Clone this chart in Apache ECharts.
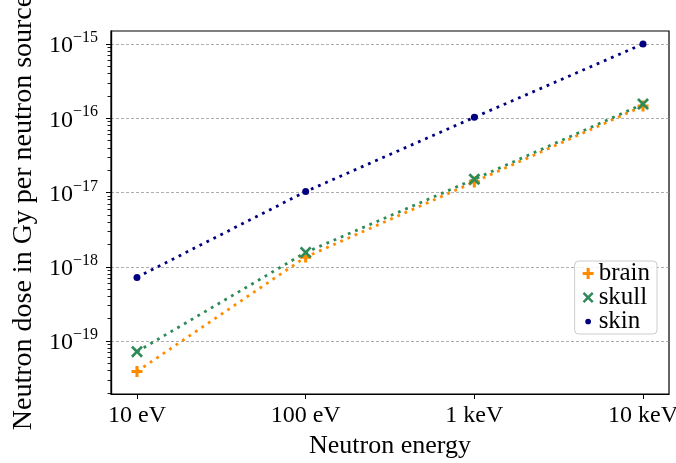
<!DOCTYPE html>
<html>
<head>
<meta charset="utf-8">
<script src="https://cdn.jsdelivr.net/npm/echarts@6/dist/echarts.min.js"></script>
<style>
  html, body { margin: 0; padding: 0; background: #fff; }
  #chart-container { width: 676px; height: 463px; }
</style>
</head>
<body>
<div id="chart-container"></div>
<script>
// neutron energy in eV
const energies = [10, 100, 1000, 10000];
const brainDose = [3.9e-20, 1.35e-18, 1.39e-17, 1.46e-16];
const skullDose = [7.2e-20, 1.56e-18, 1.51e-17, 1.55e-16];
const skinDose = [7.2e-19, 1.03e-17, 1.03e-16, 1.0e-15];

const xTickValues = [10, 100, 1000, 10000];
const xTickLabels = ["10 eV", "100 eV", "1 keV", "10 keV"];
const yTickValues = [1e-19, 1e-18, 1e-17, 1e-16, 1e-15];

const font = "Liberation Serif";
const lg = Math.log10;

// axis ranges (log10 units)
const xMin = 0.846, xMax = 4.154;
const yMin = -19.713, yMax = -14.825;

// minor ticks 2..9 per decade
let yMinor = [];
for (let n = -20; n <= -15; n++) {
    for (let k = 2; k <= 9; k++) {
        let v = lg(k) + n;
        if (v > yMin && v < yMax) yMinor.push(v);
    }
}

const plusPath = "path://M3.6,0H6.4V3.6H10V6.4H6.4V10H3.6V6.4H0V3.6H3.6Z";
const crossPath = "path://M0,1.6L1.6,0L5,3.4L8.4,0L10,1.6L6.6,5L10,8.4L8.4,10L5,6.6L1.6,10L0,8.4L3.4,5Z";
// small dot inside a 10x10 box, for the legend
const dotPath = "path://M0,0M10,10M7.6,5A2.6,2.6,0,1,1,2.4,5A2.6,2.6,0,1,1,7.6,5Z";

function toPoints(vals) {
    return energies.map((e, i) => [lg(e), lg(vals[i])]);
}

function makeSeries(name, vals, color, symbol, size) {
    return {
        name: name,
        type: "line",
        data: toPoints(vals),
        symbol: symbol,
        symbolSize: size,
        showSymbol: true,
        color: color,
        itemStyle: { color: color },
        lineStyle: { color: color, width: 2.8, type: [2.8, 5], cap: "butt" },
        emphasis: { disabled: true },
        animation: false,
    };
}

let dom = document.getElementById("chart-container");
let myChart = echarts.init(dom, null, { renderer: "canvas" });

const gridBox = { left: 111, right: 7, top: 31, bottom: 69 };

let option = {
    backgroundColor: "#fff",
    animation: false,
    grid: [
        Object.assign({
            show: true, borderColor: "#000", borderWidth: 1.2,
            backgroundColor: "transparent",
            outerBoundsMode: "none", containLabel: false,
        }, gridBox),
        // same box, only for the minor ticks
        Object.assign({ show: false, outerBoundsMode: "none", containLabel: false }, gridBox),
    ],
    legend: {
        orient: "vertical",
        right: 19,
        top: 261,
        data: [
            { name: "brain", icon: plusPath },
            { name: "skull", icon: crossPath },
            { name: "skin", icon: dotPath },
        ],
        itemWidth: 11,
        itemHeight: 11,
        itemGap: -1,
        padding: [0, 7, 0, 8],
        borderColor: "#ccc",
        borderWidth: 1,
        borderRadius: 4,
        backgroundColor: "rgba(255,255,255,0.8)",
        selectedMode: false,
        textStyle: { fontFamily: font, fontSize: 25, color: "#000" },
    },
    xAxis: [{
        type: "value",
        gridIndex: 0,
        min: xMin,
        max: xMax,
        name: "Neutron energy",
        nameLocation: "middle",
        nameGap: 28,
        nameTextStyle: { fontFamily: font, fontSize: 26, color: "#000" },
        axisLine: { onZero: false, lineStyle: { color: "#000", width: 1.2 } },
        axisTick: { customValues: xTickValues.map(lg), length: 5, lineStyle: { color: "#000", width: 1 } },
        axisLabel: {
            customValues: xTickValues.map(lg),
            margin: 10,
            fontFamily: font,
            fontSize: 24,
            color: "#000",
            formatter: function (v) {
                let i = xTickValues.findIndex((t) => Math.abs(lg(t) - v) < 1e-6);
                return i >= 0 ? xTickLabels[i] : "";
            },
        },
        splitLine: { show: false },
    }, {
        type: "value",
        gridIndex: 1,
        min: xMin,
        max: xMax,
        show: false,
    }],
    yAxis: [{
        type: "value",
        gridIndex: 0,
        min: yMin,
        max: yMax,
        name: "Neutron dose in Gy per neutron source",
        nameLocation: "middle",
        nameGap: 73,
        nameTextStyle: { fontFamily: font, fontSize: 28, color: "#000" },
        axisLine: { onZero: false, lineStyle: { color: "#000", width: 1.2 } },
        axisTick: { customValues: yTickValues.map(lg), length: 5, lineStyle: { color: "#000", width: 1 } },
        axisLabel: {
            customValues: yTickValues.map(lg),
            margin: 13,
            formatter: function (v) {
                return "{a|10}{b|\u2212" + Math.abs(Math.round(v)) + "}";
            },
            rich: {
                a: { fontFamily: font, fontSize: 24, lineHeight: 28, color: "#000", verticalAlign: "bottom" },
                b: { fontFamily: font, fontSize: 16, lineHeight: 16, color: "#000", verticalAlign: "top" },
            },
        },
        splitLine: {
            show: true,
            lineStyle: { color: "#999", width: 0.8, type: [3, 2] },
        },
    }, {
        type: "value",
        gridIndex: 1,
        min: yMin,
        max: yMax,
        position: "left",
        axisLine: { show: true, onZero: false, lineStyle: { color: "#000", width: 1.2 } },
        axisTick: { show: true, customValues: yMinor, length: 3.5, lineStyle: { color: "#000", width: 0.9 } },
        axisLabel: { show: false },
        splitLine: { show: false },
    }],
    series: [
        makeSeries("brain", brainDose, "#ff8c00", plusPath, 11),
        makeSeries("skull", skullDose, "#2e8b57", crossPath, 12),
        makeSeries("skin", skinDose, "#000080", "circle", 7),
    ],
};

if (option && typeof option === "object") {
    myChart.setOption(option);
}

window.addEventListener("resize", myChart.resize);
</script>
</body>
</html>
